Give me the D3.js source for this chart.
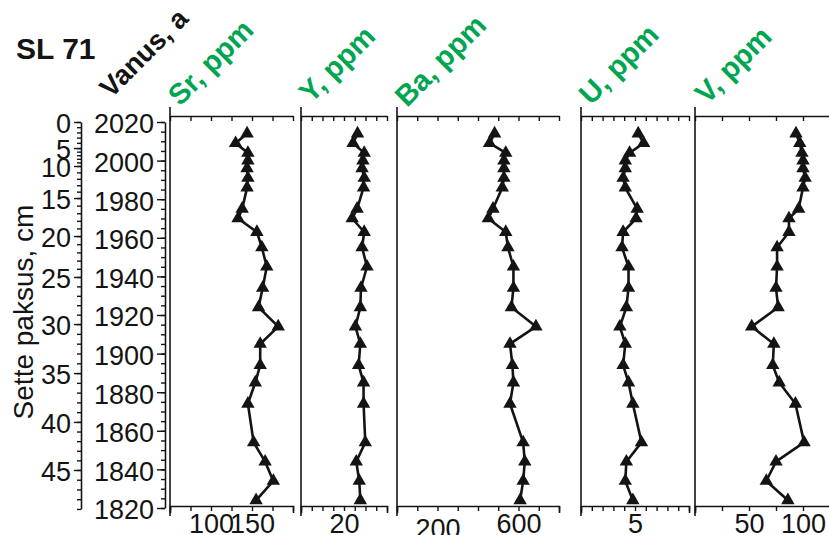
<!DOCTYPE html>
<html>
<head>
<meta charset="utf-8">
<script src="https://cdn.jsdelivr.net/npm/d3@7"></script>
<style>
  html, body { margin: 0; padding: 0; background: #fff; }
  svg { display: block; }
  text { font-family: "Liberation Sans", Arial, Helvetica, sans-serif; }
</style>
</head>
<body>
<svg id="chart" width="829" height="535"></svg>
<script>
// ---------------- data ----------------
const sampleAges = [2014, 2009, 2004, 2000, 1996, 1991, 1986, 1975, 1970, 1963, 1955, 1945, 1934, 1924, 1914, 1905, 1894, 1885, 1874, 1854, 1844, 1834, 1824];
const srValues = [144, 130, 145, 145, 144, 145, 144, 138, 133, 156, 162, 168, 163, 158, 182, 160, 160, 154, 145, 152, 166, 176, 155];
const yValues  = [26.3, 24.2, 29.4, 28.8, 28.4, 29.4, 29.1, 26.1, 23.8, 29.4, 28.4, 30.7, 27.9, 27.6, 25.3, 27.6, 26.8, 29.1, 29.1, 29.9, 25.7, 27.1, 27.6];
const baValues = [482, 457, 537, 528, 528, 528, 520, 474, 451, 537, 548, 575, 575, 565, 686, 558, 570, 575, 558, 623, 631, 623, 608];
const uValues  = [5.3, 5.8, 4.5, 4.1, 4.1, 3.9, 4.1, 5.2, 5.1, 3.9, 3.8, 4.4, 4.4, 4.2, 3.6, 4.1, 3.9, 4.4, 4.8, 5.6, 4.2, 4.1, 4.8];
const vValues  = [93.5, 97, 99, 100, 100, 102, 100, 96, 87, 87, 76, 76, 75, 77, 52.5, 73, 72, 78, 93, 101, 75, 66, 86];

// age axis
const ageMajorTicks = [2020, 2000, 1980, 1960, 1940, 1920, 1900, 1880, 1860, 1840, 1820];
// depth (cm) -> age model knots
const depthKnots    = [0, 5, 10, 15, 20, 25, 30, 35, 40, 45, 49];
const depthKnotAges = [2020, 2006.5, 1997.2, 1980.6, 1960.9, 1939.7, 1915.3, 1889.9, 1864.6, 1839.7, 1819.5];
const depthMajorTicks = [0, 5, 10, 15, 20, 25, 30, 35, 40, 45];

// panels
const panelNames   = ["Sr, ppm", "Y, ppm", "Ba, ppm", "U, ppm", "V, ppm"];
const panelValues  = [srValues, yValues, baValues, uValues, vValues];
const panelDomains = [[50, 200], [0, 40], [0, 800], [0, 10], [0, 125]];
const panelSteps   = [25, 5, 100, 1, 25];
const panelLabels  = [[100, 150], [20], [200, 600], [5], [50, 100]];

// ---------------- layout ----------------
const panelRanges = [[170, 293], [301, 387], [397, 559], [581, 689], [695, 830]];
const titleAnchors = [[180, 107], [311, 104], [407, 108], [591, 106], [707, 105]];
const green = "#00a551";
const ink = "#141414";
const topAxisY = 116, bottomAxisY = 506;
const frameTop = 107, frameBottom = 516;
const tickFont = 27;
const titleFont = 29;

const svg = d3.select("#chart");

const yScale = d3.scaleLinear().domain([2020, 1820]).range([122, 508]);
const depthY = d3.scaleLinear().domain(depthKnots).range(depthKnotAges.map(a => yScale(a)));

// Title
svg.append("text").attr("x", 16).attr("y", 59)
  .attr("font-size", 30).attr("font-weight", "bold").attr("fill", ink)
  .text("SL 71");

svg.append("text").attr("transform", "translate(111,99) rotate(-45)")
  .attr("font-size", 27.5).attr("font-weight", "bold").attr("fill", ink)
  .text("Vanus, a");

svg.append("text").attr("transform", "translate(33,312) rotate(-90)")
  .attr("text-anchor", "middle").attr("font-size", 28).attr("fill", ink)
  .text("Sette paksus, cm");

function styleAxis(g, fs) {
  g.selectAll("path.domain").attr("stroke", ink).attr("stroke-width", 1.6);
  g.selectAll(".tick line").attr("stroke", ink).attr("stroke-width", 1.4);
  g.selectAll("text").attr("fill", ink).attr("font-size", fs)
    .attr("font-family", '"Liberation Sans", Arial, sans-serif');
}

// Depth axis
const depthMinor = d3.range(0, 50, 1);
const gdm = svg.append("g").attr("transform", "translate(81,0)")
  .call(d3.axisLeft(depthY).tickValues(depthMinor).tickSize(4).tickSizeOuter(0).tickFormat(""));
styleAxis(gdm, tickFont);
const gdM = svg.append("g").attr("transform", "translate(81,0)")
  .call(d3.axisLeft(depthY).tickValues(depthMajorTicks).tickSize(7).tickSizeOuter(0).tickPadding(3));
gdM.select("path.domain").remove();
styleAxis(gdM, tickFont);
gdM.selectAll("text").attr("dy", "0.4em");

// Age axis
const ageMinor = d3.range(1820, 2021, 5);
const gam = svg.append("g").attr("transform", "translate(165,0)")
  .call(d3.axisLeft(yScale).tickValues(ageMinor).tickSize(4).tickSizeOuter(0).tickFormat(""));
styleAxis(gam, tickFont);
const gaM = svg.append("g").attr("transform", "translate(165,0)")
  .call(d3.axisLeft(yScale).tickValues(ageMajorTicks).tickSize(8).tickSizeOuter(0).tickPadding(3).tickFormat(d3.format("d")));
gaM.select("path.domain").remove();
styleAxis(gaM, tickFont);
gaM.selectAll("text").attr("dy", "0.4em");

// Panels
const line = d3.line();
const tri = d3.symbol().type(d3.symbolTriangle).size(78);

panelNames.forEach((name, i) => {
  const [x0, x1] = panelRanges[i];
  const x = d3.scaleLinear().domain(panelDomains[i]).range([x0, x1]);
  const [d0, d1] = panelDomains[i];
  const ticks = d3.range(d0, d1 + panelSteps[i] * 0.01, panelSteps[i]);
  const g = svg.append("g");

  // left frame line
  g.append("line").attr("x1", x0).attr("x2", x0).attr("y1", frameTop).attr("y2", frameBottom)
    .attr("stroke", ink).attr("stroke-width", 1.6);

  // top axis (ticks inward)
  const gt = g.append("g").attr("transform", `translate(0,${topAxisY})`)
    .call(d3.axisBottom(x).tickValues(ticks).tickSize(5).tickSizeOuter(0).tickFormat(""));
  styleAxis(gt, tickFont);

  // bottom axis
  const labels = panelLabels[i];
  const gb = g.append("g").attr("transform", `translate(0,${bottomAxisY})`)
    .call(d3.axisBottom(x).tickValues(ticks).tickSize(5).tickSizeOuter(7).tickPadding(3)
      .tickFormat(d => labels.includes(d) ? d3.format("d")(d) : ""));
  styleAxis(gb, tickFont);
  // the "200" label of the Ba panel sits slightly lower in the original
  if (i === 2) {
    gb.selectAll(".tick text").filter(d => d === 200).attr("dy", "0.9em");
  }

  // series line
  const pts = sampleAges.map((a, k) => [x(panelValues[i][k]), yScale(a)]);
  g.append("path").attr("d", line(pts)).attr("fill", "none")
    .attr("stroke", ink).attr("stroke-width", 2.6).attr("stroke-linejoin", "round");
  g.selectAll("path.mk").data(pts).join("path").attr("class", "mk")
    .attr("transform", p => `translate(${p[0]},${p[1]})`)
    .attr("d", tri).attr("fill", ink);

  // title
  const [tx, ty] = titleAnchors[i];
  svg.append("text").attr("transform", `translate(${tx},${ty}) rotate(-45)`)
    .attr("font-size", titleFont).attr("font-weight", "bold").attr("fill", green)
    .text(name);
});
</script>
</body>
</html>
